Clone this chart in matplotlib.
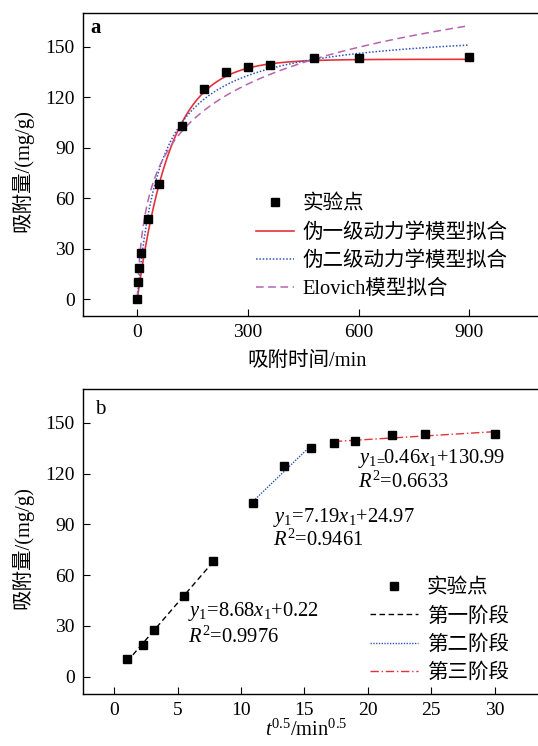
import numpy as np
import matplotlib
matplotlib.use("Agg")
import matplotlib.pyplot as plt
from matplotlib.lines import Line2D

plt.rcParams['font.family'] = ['Liberation Serif', 'Noto Sans CJK SC']
plt.rcParams['mathtext.fontset'] = 'custom'
plt.rcParams['mathtext.rm'] = 'Liberation Serif'
plt.rcParams['mathtext.it'] = 'Liberation Serif:italic'
plt.rcParams['mathtext.bf'] = 'Liberation Serif:bold'

# ---------------- data ----------------
t_min = [0, 1, 5, 10, 30, 60, 120, 180, 240, 300, 360, 480, 600, 900]
q_exp = [0, 10.3, 18.5, 27.6, 47.5, 68.2, 102.7, 124.6, 135.0, 138.2, 139.1, 143.0, 143.5, 143.6]

# fitted model parameters
pfo_qe, pfo_k = 142.5, 0.0110          # pseudo-first-order
pso_qe, pso_T = 162.0, 65.8            # pseudo-second-order: q = qe*t/(T+t)
elo_invb, elo_ab = 31.9, 0.18          # Elovich: q = (1/b) ln(1 + a b t)

sqrt_t = [1.0, 2.24, 3.16, 5.48, 7.75, 10.95, 13.42, 15.49, 17.32, 18.97, 21.91, 24.49, 30.0]
q_b = [10.3, 18.5, 27.6, 47.5, 68.2, 102.7, 124.6, 135.0, 138.2, 139.1, 143.0, 143.5, 143.6]

stage_slopes = [8.68, 7.19, 0.46]
stage_icpts = [0.22, 24.97, 130.99]
stage_ranges = [(1.0, 7.75), (10.95, 15.49), (17.32, 30.0)]
stage_labels = ['第一阶段', '第二阶段', '第三阶段']
stage_eq = [r'$y_1$=8.68$x_1$+0.22', r'$y_1$=7.19$x_1$+24.97', r'$y_{1\!=\!\!}$0.46$x_1$+130.99']
stage_r2 = [r'$R^2$=0.9976', r'$R^2$=0.9461', r'$R^2$=0.6633']

fit_labels = ['伪一级动力学模型拟合', '伪二级动力学模型拟合', 'Elovich模型拟合']
point_label = '实验点'

RED = '#e5323a'
BLUE = '#2f55b8'
PURPLE = '#b663b0'

FS = 14.8

W, H = 538, 746
fig = plt.figure(figsize=(W / 100, H / 100), dpi=100)

def px_axes(l, r, top, bot):
    return [l / W, 1 - bot / H, (r - l) / W, (bot - top) / H]

axa = fig.add_axes(px_axes(83, 549, 13, 316))
axb = fig.add_axes(px_axes(83, 549, 389, 693.7))

for ax in (axa, axb):
    for s in ax.spines.values():
        s.set_linewidth(1.0)
    ax.spines['right'].set_visible(False)
    ax.tick_params(direction='in', length=5, width=0.8, labelsize=14, pad=6,
                   top=False, right=False)

# ---------------- panel a ----------------
tt = np.linspace(0, 900, 600)
axa.plot(tt, pfo_qe * (1 - np.exp(-pfo_k * tt)), color=RED, lw=1.2, zorder=3)
axa.plot(tt, pso_qe * tt / (pso_T + tt), color=BLUE, lw=1.1, ls=(0, (1, 1.2)), zorder=3)
axa.plot(tt, elo_invb * np.log(1 + elo_ab * tt), color=PURPLE, lw=1.1, ls=(0, (5, 3)), zorder=3)
axa.plot(t_min, q_exp, 's', color='black', ms=6, zorder=4)

axa.set_xlim(-147, 1116)
axa.set_ylim(-10, 170)
axa.set_xticks([0, 300, 600, 900])
axa.set_yticks([0, 30, 60, 90, 120, 150])
axa.set_xlabel('吸附时间/min', fontsize=FS)
axa.set_ylabel('吸附量/(mg/g)', fontsize=FS)
axa.xaxis.set_label_coords(0.48, -0.12)
axa.yaxis.set_label_coords(-0.107, 0.48)
axa.text(0.028, 0.95, 'a', transform=axa.transAxes, fontsize=15, fontweight='bold',
         ha='center', va='center')

ha = [Line2D([], [], ls='none', marker='s', color='black', ms=6),
      Line2D([], [], color=RED, lw=1.2),
      Line2D([], [], color=BLUE, lw=1.1, ls=(0, (1, 1.2))),
      Line2D([], [], color=PURPLE, lw=1.1, ls=(0, (5, 3)))]
axa.legend(ha, [point_label] + fit_labels, loc='upper left', bbox_to_anchor=(0.371, 0.399),
           frameon=False, fontsize=FS, borderpad=0, borderaxespad=0,
           handlelength=1.85, handletextpad=0.4, labelspacing=0.42)

# ---------------- panel b ----------------
stage_styles = [dict(color='black', ls=(0, (4, 2.5)), lw=1.0),
                dict(color=BLUE, ls=(0, (1, 1)), lw=1.0),
                dict(color=RED, ls=(0, (6, 2, 1, 2)), lw=1.0)]
for k in range(3):
    x0, x1 = stage_ranges[k]
    xs = np.array([x0, x1])
    axb.plot(xs, stage_slopes[k] * xs + stage_icpts[k], zorder=3, **stage_styles[k])
axb.plot(sqrt_t, q_b, 's', color='black', ms=6, zorder=4)

axb.set_xlim(-2.47, 34.3)
axb.set_ylim(-10, 170)
axb.set_xticks([0, 5, 10, 15, 20, 25, 30])
axb.set_yticks([0, 30, 60, 90, 120, 150])
axb.set_xlabel(r'$t^{0.5}$/min$^{0.5}$', fontsize=FS)
axb.set_ylabel('吸附量/(mg/g)', fontsize=FS)
axb.xaxis.set_label_coords(0.48, -0.086)
axb.yaxis.set_label_coords(-0.107, 0.48)
axb.text(0.036, 0.934, 'b', transform=axb.transAxes, fontsize=15, ha='center', va='center')

eq_pos = [(5.82, 38.6, 23.6), (12.5, 94.2, 80.8), (19.25, 128.8, 115.0)]
for k in range(3):
    x, ye, yr = eq_pos[k]
    axb.text(x, ye, stage_eq[k], fontsize=FS, ha='left', va='center')
    axb.text(x, yr, stage_r2[k], fontsize=FS, ha='left', va='center')

hb = [Line2D([], [], ls='none', marker='s', color='black', ms=6)] + \
     [Line2D([], [], **stage_styles[k]) for k in range(3)]
axb.legend(hb, [point_label] + stage_labels, loc='upper left', bbox_to_anchor=(0.616, 0.376),
           frameon=False, fontsize=FS, borderpad=0, borderaxespad=0,
           handlelength=2.35, handletextpad=0.4, labelspacing=0.42)

fig.savefig('out.png', dpi=100)
